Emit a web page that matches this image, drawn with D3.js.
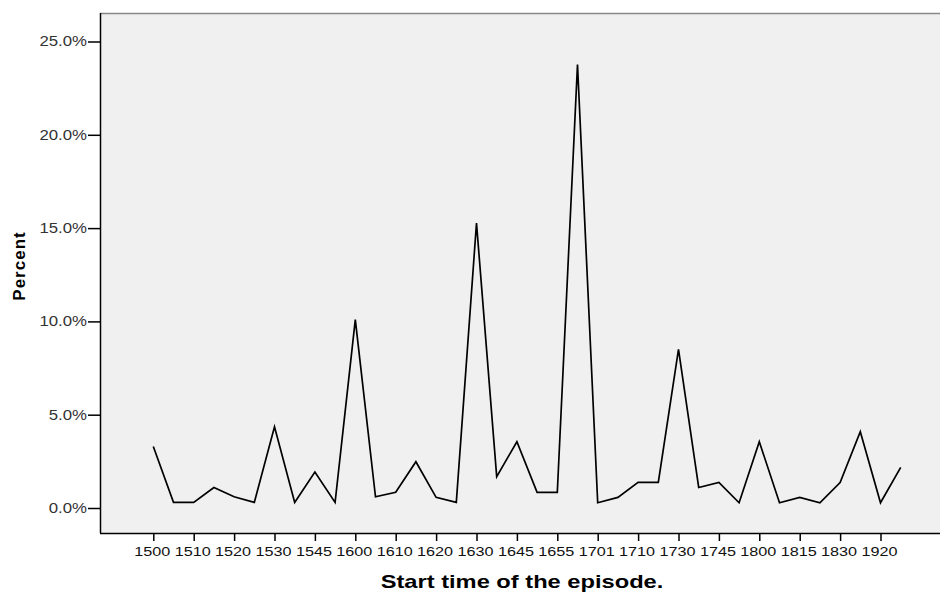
<!DOCTYPE html>
<html><head><meta charset="utf-8">
<script src="https://cdn.jsdelivr.net/npm/d3@7"></script>
<style>body{margin:0;background:#fff}svg{display:block}</style>
</head><body>
<script>
const categories = ["1500","1505","1510","1515","1520","1525","1530","1540","1545","1550",
  "1600","1605","1610","1615","1620","1625","1630","1640","1645","1650",
  "1655","1700","1701","1705","1710","1720","1730","1740","1745","1750",
  "1800","1810","1815","1820","1830","1900","1920","1930"];
const percents = [3.3,0.3,0.3,1.1,0.6,0.3,4.35,0.3,1.93,0.3,
  10.1,0.6,0.84,2.48,0.57,0.3,15.27,1.68,3.55,0.84,
  0.84,23.77,0.28,0.57,1.37,1.37,8.5,1.1,1.37,0.28,
  3.55,0.28,0.57,0.28,1.36,4.09,0.28,2.18];
const tickLabels = ["1500","1510","1520","1530","1545","1600","1610","1620","1630","1645",
  "1655","1701","1710","1730","1745","1800","1815","1830","1920"];
const yTicks = [0,5,10,15,20,25];

const W = 940, H = 592;
const svg = d3.select("body").append("svg").attr("width", W).attr("height", H);
const pLeft = 100, pTop = 13, pBottom = 533, pRight = 942;

svg.append("rect").attr("x", pLeft).attr("y", pTop).attr("width", pRight - pLeft).attr("height", pBottom - pTop)
  .attr("fill", "#f0f0f0");
svg.append("line").attr("x1", pLeft).attr("x2", pRight).attr("y1", pTop + 0.5).attr("y2", pTop + 0.5)
  .attr("stroke", "#888").attr("stroke-width", 1.5);

const x = d3.scalePoint().domain(categories).range([153.3, 900.7]);
const y = d3.scaleLinear().domain([0, 25]).range([508, 41.5]);

const yAxis = d3.axisLeft(y).tickValues(yTicks).tickSize(12).tickPadding(1)
  .tickFormat(d => d3.format(".1f")(d) + "%");
const gy = svg.append("g").attr("transform", `translate(${pLeft},0)`).call(yAxis);
gy.select(".domain").attr("d", `M0.5,${pTop}V${pBottom}`).attr("stroke", "#000").attr("stroke-width", 1.5);
gy.selectAll(".tick line").attr("stroke", "#000").attr("stroke-width", 1.5);
gy.selectAll(".tick text").attr("font-family", "Liberation Sans").attr("font-size", 14)
  .attr("x", 0).attr("transform", "translate(-13,0) scale(1.2,1)").attr("fill", "#333");

const labelled = new Set(tickLabels);
const xAxis = d3.axisBottom(x).tickValues(categories.filter(c => labelled.has(c))).tickSize(8).tickPadding(5);
const gx = svg.append("g").attr("transform", `translate(0,${pBottom})`).call(xAxis);
gx.select(".domain").attr("d", `M${pLeft},0.5H${pRight}`).attr("stroke", "#000").attr("stroke-width", 1.5);
gx.selectAll(".tick line").attr("stroke", "#000").attr("stroke-width", 1.5);
gx.selectAll(".tick text").attr("font-family", "Liberation Sans").attr("font-size", 13.5)
  .attr("transform", "translate(-1.5,0) scale(1.2,1)").attr("fill", "#111");

const line = d3.line().x((d, i) => x(categories[i])).y(d => y(d));
svg.append("path").datum(percents).attr("d", line).attr("fill", "none")
  .attr("stroke", "#000").attr("stroke-width", 1.7).attr("stroke-linejoin", "miter");

svg.append("text").attr("transform", "translate(522,588) scale(1.28,1)").attr("text-anchor", "middle")
  .attr("font-family", "Liberation Sans").attr("font-weight", "bold").attr("font-size", 18.5)
  .text("Start time of the episode.");
svg.append("text").attr("transform", "translate(25,266) rotate(-90)").attr("text-anchor", "middle")
  .attr("font-family", "Liberation Sans").attr("font-weight", "bold").attr("font-size", 17)
  .attr("letter-spacing", "1px")
  .text("Percent");
</script>
</body></html>
